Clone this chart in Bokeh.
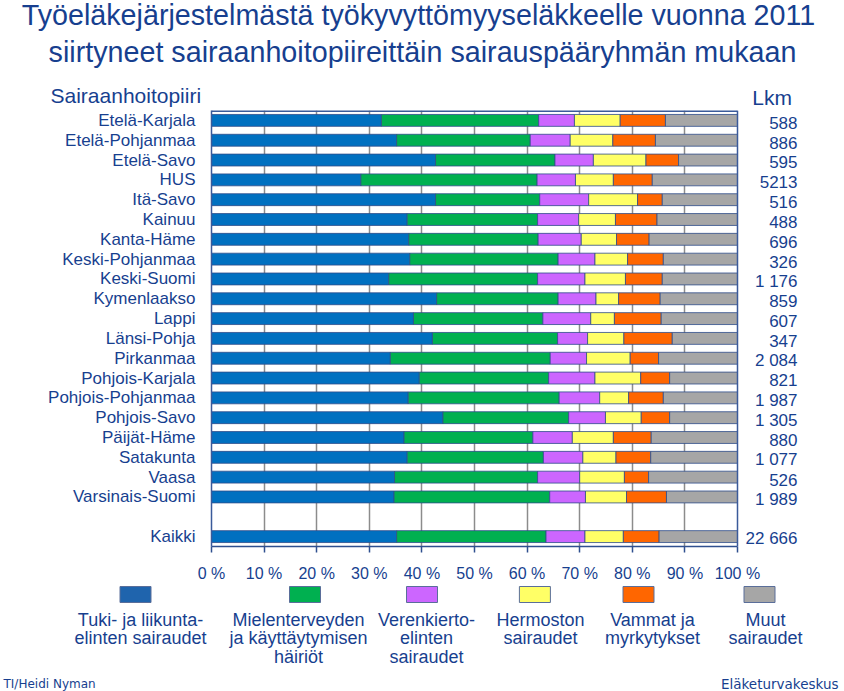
from bokeh.plotting import figure
from bokeh.models import ColumnDataSource, Range1d, FixedTicker, Span
from bokeh.layouts import column, row
from bokeh.core.properties import value
from bokeh.embed import file_html
from bokeh.resources import INLINE

# ---------------- data ----------------
districts = ["Etelä-Karjala", "Etelä-Pohjanmaa", "Etelä-Savo", "HUS", "Itä-Savo",
             "Kainuu", "Kanta-Häme", "Keski-Pohjanmaa", "Keski-Suomi", "Kymenlaakso",
             "Lappi", "Länsi-Pohja", "Pirkanmaa", "Pohjois-Karjala", "Pohjois-Pohjanmaa",
             "Pohjois-Savo", "Päijät-Häme", "Satakunta", "Vaasa", "Varsinais-Suomi",
             "Kaikki"]
counts = ["588", "886", "595", "5213", "516", "488", "696", "326", "1 176", "859",
          "607", "347", "2 084", "821", "1 987", "1 305", "880", "1 077", "526",
          "1 989", "22 666"]

tuki = [32.3, 35.2, 42.6, 28.4, 42.6, 37.2, 37.5, 37.7, 33.7, 42.8,
        38.4, 42.0, 34.0, 39.5, 37.4, 44.0, 36.6, 37.2, 34.8, 34.7, 35.2]
mieli = [29.9, 25.4, 22.7, 33.5, 19.8, 24.8, 24.6, 28.2, 28.3, 23.1,
         24.6, 23.8, 30.4, 24.6, 28.7, 23.9, 24.5, 25.9, 27.2, 29.6, 28.4]
veren = [6.8, 7.6, 7.3, 7.3, 9.3, 7.8, 8.2, 7.0, 9.0, 7.2,
         9.1, 5.7, 6.9, 8.8, 7.7, 7.0, 7.5, 7.5, 8.0, 6.8, 7.4]
hermo = [8.7, 8.1, 10.0, 7.2, 9.3, 7.0, 6.7, 6.2, 7.7, 4.3,
         4.5, 6.9, 8.3, 8.7, 5.5, 6.8, 7.8, 6.3, 8.5, 7.8, 7.3]
vammat = [8.6, 8.1, 6.2, 7.4, 4.7, 7.9, 6.2, 6.8, 7.0, 7.9,
          8.9, 9.2, 5.4, 5.5, 6.6, 5.4, 7.2, 6.6, 4.6, 7.6, 6.8]
muut = [13.7, 15.6, 11.2, 16.2, 14.3, 15.3, 16.8, 14.1, 14.3, 14.7,
        14.5, 12.4, 15.0, 12.9, 14.1, 12.9, 16.4, 16.5, 16.9, 13.5, 14.9]

series_keys = ["tuki", "mieli", "veren", "hermo", "vammat", "muut"]
series_labels = ["Tuki- ja liikunta-\nelinten sairaudet",
                 "Mielenterveyden\nja käyttäytymisen\nhäiriöt",
                 "Verenkierto-\nelinten\nsairaudet",
                 "Hermoston\nsairaudet",
                 "Vammat ja\nmyrkytykset",
                 "Muut\nsairaudet"]
bar_colors = ["#0070C0", "#00B050", "#CC66FF", "#FFFF66", "#FF6600", "#A6A6A6"]
swatch_colors = ["#1F64AD", "#00B050", "#CC66FF", "#FFFF66", "#FF6600", "#A6A6A6"]
x_ticks = [0, 10, 20, 30, 40, 50, 60, 70, 80, 90, 100]

title_lines = ["Työeläkejärjestelmästä työkyvyttömyyseläkkeelle vuonna  2011",
               "siirtyneet sairaanhoitopiireittäin sairauspääryhmän mukaan"]

TXT = "#173F8F"
BORDER = "#3A5A9A"
FONT = "Liberation Sans"

W, H = 844, 691
TOP_H = 110                    # title band height
MAIN_H = 474                   # chart band height
BOT_H = H - TOP_H - MAIN_H     # legend band height
FL, FT, FH = 211, 0, 436       # frame left, top (inside band), height
FR = 4                         # right border
PX_PER_PCT = 5.26              # 100 % spans 526 px
FW = W - FL - FR

ypos = list(range(len(districts) - 1)) + [len(districts)]
nslots = len(districts) + 1

src = ColumnDataSource(dict(y=ypos, tuki=tuki, mieli=mieli, veren=veren,
                            hermo=hermo, vammat=vammat, muut=muut,
                            cnt=counts, cy=[v + 0.12 for v in ypos]))


def blank(w, h, x0, y0):
    """A figure whose frame is the whole canvas, in page-pixel coordinates."""
    f = figure(width=w, height=h, output_backend="svg", toolbar_location=None,
               x_range=Range1d(x0, x0 + w), y_range=Range1d(y0 + h, y0),
               x_axis_location=None, y_axis_location=None)
    f.min_border = 0
    f.min_border_left = f.min_border_right = 0
    f.min_border_top = f.min_border_bottom = 0
    f.outline_line_color = None
    f.xgrid.grid_line_color = None
    f.ygrid.grid_line_color = None
    f.background_fill_color = "white"
    f.border_fill_color = "white"
    return f


def txt(f, x, y, t, size, align="left", font=FONT):
    f.text(x=[x], y=[y], text=[t], text_font=value(font), text_font_size=size,
           text_color=TXT, text_align=align, text_baseline="middle")


# ---------------- title band ----------------
top = blank(W, TOP_H, 0, 0)
txt(top, 422, 14.5, title_lines[0], "28.7px", "center")
txt(top, 422, 51.4, title_lines[1], "28.7px", "center")
txt(top, 50, 95, "Sairaanhoitopiiri", "21px")
txt(top, 751.7, 97.3, "Lkm", "21px")

# ---------------- main chart ----------------
p = figure(width=W, height=MAIN_H, output_backend="svg", toolbar_location=None,
           x_range=Range1d(0, FW / PX_PER_PCT),
           y_range=Range1d(nslots - 0.5, -0.5))
p.min_border_left = FL
p.min_border_right = FR
p.min_border_top = FT
p.min_border_bottom = MAIN_H - FT - FH
p.background_fill_color = "white"
p.border_fill_color = "white"
p.outline_line_color = None

p.hbar_stack(series_keys, y="y", height=0.6, color=bar_colors, source=src,
             line_color="#2E4D8A", line_width=0.8)

# plot-area border (top and right; left/bottom come from the axes)
p.segment(x0=[0], x1=[100], y0=[-0.5], y1=[-0.5], line_color=BORDER, line_width=3)
p.add_layout(Span(location=100, dimension="height", line_color=BORDER,
                  line_width=1.5))

xa = p.xaxis[0]
xa.bounds = (0, 100)
xa.ticker = FixedTicker(ticks=x_ticks)
xa.major_label_overrides = {t: f"{t} %" for t in x_ticks}
xa.major_label_text_font = FONT
xa.major_label_text_font_size = "16px"
xa.major_label_text_color = TXT
xa.axis_line_color = "#2F4F8F"
xa.axis_line_width = 1.5
xa.major_tick_line_color = "#2F4F8F"
xa.major_tick_line_width = 1.5
xa.major_tick_out = 6
xa.major_tick_in = 0
xa.minor_tick_line_color = None
xa.major_label_standoff = 12

ya = p.yaxis[0]
ya.ticker = FixedTicker(ticks=ypos)
ya.major_label_overrides = {y: n for y, n in zip(ypos, districts)}
ya.major_label_text_font = FONT
ya.major_label_text_font_size = "17px"
ya.major_label_text_color = TXT
ya.axis_line_color = BORDER
ya.axis_line_width = 1.5
ya.major_tick_line_color = None
ya.minor_tick_line_color = None
ya.major_label_standoff = 10

p.xgrid.ticker = FixedTicker(ticks=x_ticks[1:-1])
p.xgrid.grid_line_color = "#8C8C8C"
p.xgrid.grid_line_width = 1.5
p.ygrid.grid_line_color = None

# counts, right-aligned beside the bars
p.text(x=(797 - FL) / PX_PER_PCT, y="cy", text="cnt", source=src,
       text_font=value(FONT), text_font_size="17px", text_color=TXT,
       text_align="right", text_baseline="middle")

# ---------------- legend + footer band ----------------
b = blank(W, BOT_H, 0, TOP_H + MAIN_H)
sw_cx = [135, 304.5, 421.5, 534.4, 638, 759]
tx_cx = [140, 298, 426, 540, 652, 765]
b.rect(x=sw_cx, y=[594] * 6, width=31, height=16, fill_color=swatch_colors,
       line_color="#5A6E9A", line_width=1)
for i, name in enumerate(series_labels):
    for j, line in enumerate(name.split("\n")):
        txt(b, tx_cx[i], 619 + 18.5 * j, line, "18px", "center")
txt(b, 3, 683.7, "TI/Heidi Nyman", "12px", "left", "DejaVu Sans")
txt(b, 838, 683.7, "Eläketurvakeskus", "13.5px", "right", "DejaVu Sans")

layout = column(top, row(p, spacing=0), b, spacing=0)
open("out.html", "w").write(file_html(layout, INLINE))
